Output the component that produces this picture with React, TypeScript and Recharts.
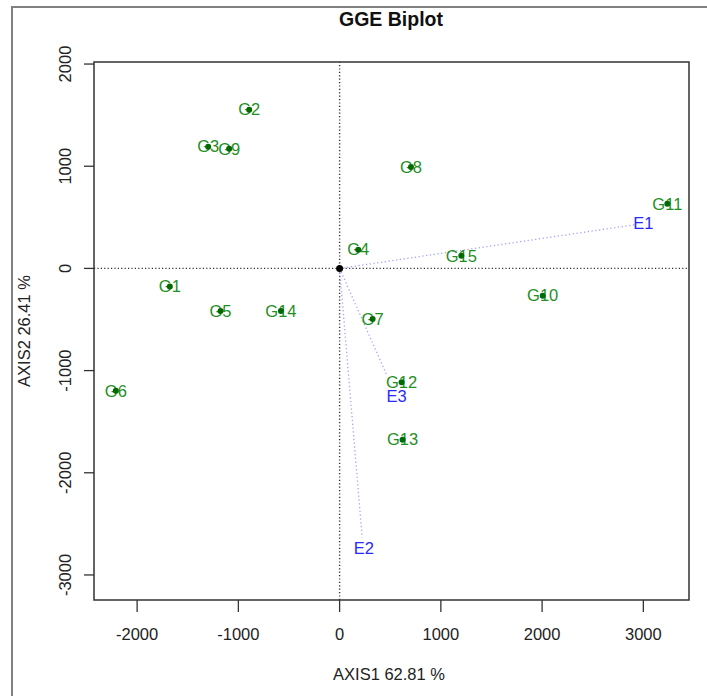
import React from "react"
import { ScatterChart, Scatter, XAxis, YAxis, ReferenceLine, ReferenceDot, ReferenceArea } from "recharts"

// genotype scores (AXIS1, AXIS2)
const genotypes = ["G1", "G2", "G3", "G4", "G5", "G6", "G7", "G8", "G9", "G10", "G11", "G12", "G13", "G14", "G15"]
const genoX = [-1677, -893, -1298, 184, -1176, -2210, 326, 705, -1091, 2006, 3237, 612, 622, -580, 1202]
const genoY = [-176, 1553, 1191, 183, -417, -1197, -495, 992, 1171, -267, 633, -1115, -1676, -417, 124]

// environment vectors: where the dotted line ends, and where the label sits
const environments = ["E1", "E2", "E3"]
const envX = [2918, 223, 464]
const envY = [428, -2635, -1040]
const envLabelX = [3000, 240, 563]
const envLabelY = [444, -2738, -1246]

const xTicks = [-2000, -1000, 0, 1000, 2000, 3000]
const yTicks = [-3000, -2000, -1000, 0, 1000, 2000]
const xDomain = [-2426, 3451]
const yDomain = [-3245, 2020]

const genoData = genotypes.map((name, i) => ({ name, x: genoX[i], y: genoY[i] }))
const envLabels = environments.map((name, i) => ({ name, x: envLabelX[i], y: envLabelY[i] }))

const font = "'Liberation Sans', Arial, sans-serif"

const GenoShape = (props: any) => {
    const { cx, cy, payload } = props
    return (
        <g>
            <text x={cx} y={cy} dy="0.35em" textAnchor="middle" fontSize={16.5} fontFamily={font} fill="#1f8f1f">
                {payload.name}
            </text>
            <circle cx={cx} cy={cy} r={3} fill="#006a00" />
        </g>
    )
}

const EnvShape = (props: any) => {
    const { cx, cy, payload } = props
    return (
        <text x={cx} y={cy} dy="0.35em" textAnchor="middle" fontSize={16.5} fontFamily={font} fill="#2a2aff">
            {payload.name}
        </text>
    )
}

const XTick = (props: any) => {
    const { x, y, payload } = props
    return (
        <text x={x} y={y} dy="0.71em" textAnchor="middle" fontSize={16.5} fontFamily={font} fill="#222">
            {payload.value}
        </text>
    )
}

const YTick = (props: any) => {
    const { x, y, payload } = props
    return (
        <text x={x} y={y} textAnchor="middle" fontSize={16.5} fontFamily={font} fill="#222" transform={`rotate(-90 ${x} ${y})`}>
            {payload.value}
        </text>
    )
}

export default function App() {
    return (
        <div style={{ position: "absolute", left: 0, top: 0, width: 707, height: 696, overflow: "hidden", background: "#fff" }}>
            <ScatterChart width={707} height={696} margin={{ top: 62, right: 18, bottom: 36, left: 34 }}>
                <XAxis
                    type="number"
                    dataKey="x"
                    domain={xDomain}
                    ticks={xTicks}
                    allowDataOverflow
                    axisLine={false}
                    tickSize={12}
                    tickMargin={16}
                    tickLine={{ stroke: "#333", strokeWidth: 1.3 }}
                    tick={<XTick />}
                    height={60}
                />
                <YAxis
                    type="number"
                    dataKey="y"
                    domain={yDomain}
                    ticks={yTicks}
                    allowDataOverflow
                    axisLine={false}
                    tickSize={10}
                    tickMargin={13}
                    tickLine={{ stroke: "#333", strokeWidth: 1.3 }}
                    tick={<YTick />}
                    width={60}
                />
                <ReferenceArea x1={xDomain[0]} x2={xDomain[1]} y1={yDomain[0]} y2={yDomain[1]} fill="none" stroke="#333" strokeWidth={1.5} ifOverflow="visible" />
                <ReferenceLine y={0} stroke="#333" strokeDasharray="1.2 2.2" strokeWidth={1.4} />
                <ReferenceLine x={0} stroke="#333" strokeDasharray="1.2 2.2" strokeWidth={1.4} />
                {environments.map((name, i) => (
                    <ReferenceLine
                        key={name}
                        segment={[{ x: 0, y: 0 }, { x: envX[i], y: envY[i] }]}
                        stroke="#a4a4ff"
                        strokeDasharray="1.3 2.5"
                        strokeWidth={1.3}
                    />
                ))}
                <ReferenceDot x={0} y={0} r={3.5} fill="#000" stroke="none" />
                <Scatter data={genoData} shape={<GenoShape />} isAnimationActive={false} />
                <Scatter data={envLabels} shape={<EnvShape />} isAnimationActive={false} />
            </ScatterChart>
            <svg width={707} height={696} style={{ position: "absolute", left: 0, top: 0, pointerEvents: "none" }}>
                <rect x={12} y={7} width={760} height={760} fill="none" stroke="#808080" strokeWidth={2} />
                <text x={391} y={26} textAnchor="middle" fontSize={19.5} fontWeight="bold" fontFamily={font} fill="#111">
                    GGE Biplot
                </text>
                <text x={389} y={680} textAnchor="middle" fontSize={16.5} fontFamily={font} fill="#222">
                    AXIS1 62.81 %
                </text>
                <text x={30} y={331} textAnchor="middle" fontSize={16.5} fontFamily={font} fill="#222" transform="rotate(-90 30 331)">
                    AXIS2 26.41 %
                </text>
            </svg>
        </div>
    )
}
